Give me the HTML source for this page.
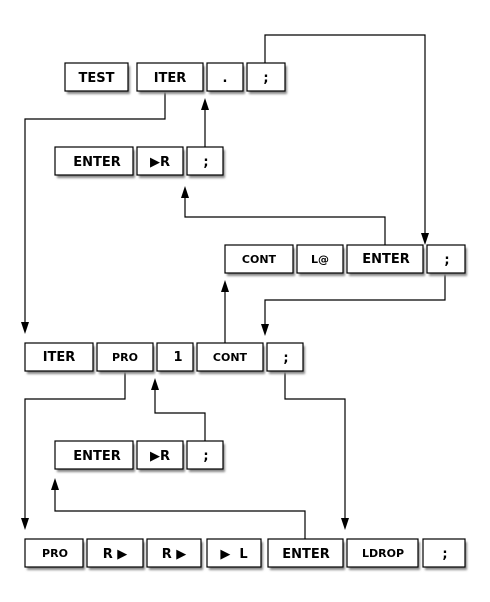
<!DOCTYPE html>
<html><head><meta charset="utf-8"><style>
html,body{margin:0;padding:0;background:#fff;}
svg{display:block;}
text{font-family:"DejaVu Sans","Liberation Sans",sans-serif;font-weight:bold;font-size:13px;text-anchor:middle;fill:#000;}
.s{font-size:11px;}
rect.b{fill:#fff;stroke:#000;stroke-width:1.2;}
path.l{fill:none;stroke:#000;stroke-width:1.2;}
</style></head><body>
<svg width="490" height="602" viewBox="0 0 490 602" xmlns="http://www.w3.org/2000/svg">
<defs>
<filter id="f" x="-20%" y="-20%" width="150%" height="150%"><feGaussianBlur stdDeviation="1"/></filter>
</defs>
<path class="l" d="M265 63 V35 H425 V236"/>
<path d="M421 233 L429 233 L425 245 Z"/>
<path class="l" d="M205 147 V108"/>
<path d="M201 110 L209 110 L205 98 Z"/>
<path class="l" d="M165 91 V119 H25 V324"/>
<path d="M21 322 L29 322 L25 334 Z"/>
<path class="l" d="M385 245 V217 H185 V195"/>
<path d="M181 198 L189 198 L185 186 Z"/>
<path class="l" d="M225 343 V290"/>
<path d="M221 292 L229 292 L225 280 Z"/>
<path class="l" d="M445 273 V300 H265 V326"/>
<path d="M261 324 L269 324 L265 336 Z"/>
<path class="l" d="M125 371 V399 H25 V520"/>
<path d="M21 518 L29 518 L25 530 Z"/>
<path class="l" d="M285 371 V399 H345 V520"/>
<path d="M341 518 L349 518 L345 530 Z"/>
<path class="l" d="M205 441 V413 H155 V388"/>
<path d="M151 390 L159 390 L155 378 Z"/>
<path class="l" d="M305 539 V511 H55 V488"/>
<path d="M51 490 L59 490 L55 478 Z"/>

<g>
<rect x="67" y="66" width="63" height="28" fill="#888" filter="url(#f)"/><rect class="b" x="65" y="63" width="63" height="28"/><text x="96.5" y="82">TEST</text>
<rect x="139" y="66" width="66" height="28" fill="#888" filter="url(#f)"/><rect class="b" x="137" y="63" width="66" height="28"/><text x="170" y="82">ITER</text>
<rect x="209" y="66" width="36" height="28" fill="#888" filter="url(#f)"/><rect class="b" x="207" y="63" width="36" height="28"/><text x="225" y="82">.</text>
<rect x="249" y="66" width="38" height="28" fill="#888" filter="url(#f)"/><rect class="b" x="247" y="63" width="38" height="28"/><text x="266" y="82">;</text>
</g>
<g>
<rect x="57" y="150" width="78" height="28" fill="#888" filter="url(#f)"/><rect class="b" x="55" y="147" width="78" height="28"/><text x="97" y="166">ENTER</text>
<rect x="139" y="150" width="46" height="28" fill="#888" filter="url(#f)"/><rect class="b" x="137" y="147" width="46" height="28"/><text x="160" y="166">▶R</text>
<rect x="189" y="150" width="36" height="28" fill="#888" filter="url(#f)"/><rect class="b" x="187" y="147" width="36" height="28"/><text x="206" y="166">;</text>
</g>
<g>
<rect x="227" y="248" width="68" height="28" fill="#888" filter="url(#f)"/><rect class="b" x="225" y="245" width="68" height="28"/><text x="259" y="263" class="s">CONT</text>
<rect x="299" y="248" width="46" height="28" fill="#888" filter="url(#f)"/><rect class="b" x="297" y="245" width="46" height="28"/><text x="320" y="263" class="s">L@</text>
<rect x="349" y="248" width="76" height="28" fill="#888" filter="url(#f)"/><rect class="b" x="347" y="245" width="76" height="28"/><text x="386" y="263">ENTER</text>
<rect x="429" y="248" width="38" height="28" fill="#888" filter="url(#f)"/><rect class="b" x="427" y="245" width="38" height="28"/><text x="447" y="264">;</text>
</g>
<g>
<rect x="27" y="346" width="68" height="28" fill="#888" filter="url(#f)"/><rect class="b" x="25" y="343" width="68" height="28"/><text x="59" y="361">ITER</text>
<rect x="99" y="346" width="56" height="28" fill="#888" filter="url(#f)"/><rect class="b" x="97" y="343" width="56" height="28"/><text x="125" y="361" class="s">PRO</text>
<rect x="159" y="346" width="36" height="28" fill="#888" filter="url(#f)"/><rect class="b" x="157" y="343" width="36" height="28"/><text x="178" y="361">1</text>
<rect x="199" y="346" width="66" height="28" fill="#888" filter="url(#f)"/><rect class="b" x="197" y="343" width="66" height="28"/><text x="230" y="361" class="s">CONT</text>
<rect x="269" y="346" width="36" height="28" fill="#888" filter="url(#f)"/><rect class="b" x="267" y="343" width="36" height="28"/><text x="286" y="362">;</text>
</g>
<g>
<rect x="57" y="444" width="78" height="28" fill="#888" filter="url(#f)"/><rect class="b" x="55" y="441" width="78" height="28"/><text x="97" y="460">ENTER</text>
<rect x="139" y="444" width="46" height="28" fill="#888" filter="url(#f)"/><rect class="b" x="137" y="441" width="46" height="28"/><text x="160" y="460">▶R</text>
<rect x="189" y="444" width="36" height="28" fill="#888" filter="url(#f)"/><rect class="b" x="187" y="441" width="36" height="28"/><text x="206" y="460">;</text>
</g>
<g>
<rect x="27" y="542" width="58" height="28" fill="#888" filter="url(#f)"/><rect class="b" x="25" y="539" width="58" height="28"/><text x="55" y="557" class="s">PRO</text>
<rect x="89" y="542" width="56" height="28" fill="#888" filter="url(#f)"/><rect class="b" x="87" y="539" width="56" height="28"/><text x="115" y="558">R ▶</text>
<rect x="149" y="542" width="54" height="28" fill="#888" filter="url(#f)"/><rect class="b" x="147" y="539" width="54" height="28"/><text x="174" y="558">R ▶</text>
<rect x="209" y="542" width="54" height="28" fill="#888" filter="url(#f)"/><rect class="b" x="207" y="539" width="54" height="28"/><text x="234" y="558" xml:space="preserve">▶  L</text>
<rect x="270" y="542" width="75" height="28" fill="#888" filter="url(#f)"/><rect class="b" x="268" y="539" width="75" height="28"/><text x="306" y="558">ENTER</text>
<rect x="349" y="542" width="71" height="28" fill="#888" filter="url(#f)"/><rect class="b" x="347" y="539" width="71" height="28"/><text x="383" y="557" class="s">LDROP</text>
<rect x="425" y="542" width="42" height="28" fill="#888" filter="url(#f)"/><rect class="b" x="423" y="539" width="42" height="28"/><text x="445" y="558">;</text>
</g>
</svg>
</body></html>
